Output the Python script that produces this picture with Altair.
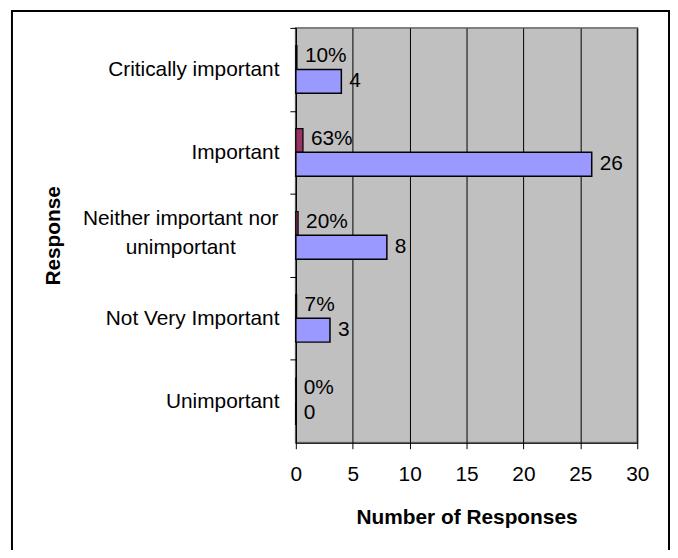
import altair as alt
import pandas as pd

categories = ["Critically important", "Important", "Neither important nor unimportant",
              "Not Very Important", "Unimportant"]
counts = [4, 26, 8, 3, 0]
percents = [0.10, 0.63, 0.20, 0.07, 0.0]
percent_labels = ["10%", "63%", "20%", "7%", "0%"]
x_ticks = [0, 5, 10, 15, 20, 25, 30]

pct_df = pd.DataFrame({"response": categories, "value": percents, "label": percent_labels})
cnt_df = pd.DataFrame({"response": categories, "value": counts,
                       "label": [str(n) for n in counts]})

FONT = "Liberation Sans"
FS = 21
H = 418

y_enc = alt.Y("response:N", sort=categories,
              scale=alt.Scale(domain=categories, paddingInner=0, paddingOuter=0),
              axis=alt.Axis(title="Response", tickSize=6, tickOffset=-H / 10,
                            labelOffset=H / 10,
                            tickColor="black", domainColor="black",
                            labelPadding=11, labelFontSize=FS, labelColor="black",
                            labelFont=FONT, labelLimit=400,
                            labelExpr="indexof(datum.value, 'Neither') >= 0 ? '' : datum.value",
                            titleFont=FONT, titleFontSize=FS, titleFontWeight="bold",
                            titleColor="black", titlePadding=42))
x_enc = alt.X("value:Q", scale=alt.Scale(domain=[0, 30], nice=False, zero=True),
              axis=alt.Axis(values=x_ticks, title="Number of Responses", grid=True,
                            gridColor="black", gridOpacity=1, gridWidth=1,
                            tickSize=6, tickColor="black", domainColor="black",
                            labelPadding=15, labelFontSize=FS, labelFont=FONT,
                            labelColor="black", labelFlush=False,
                            titleFont=FONT, titleFontSize=FS, titleFontWeight="bold",
                            titleColor="black", titlePadding=22))

pct_bars = alt.Chart(pct_df).mark_bar(height=24, yOffset=-12, color="#993366",
                                      stroke="black", strokeWidth=1.2).encode(
    x=x_enc, y=y_enc)
cnt_bars = alt.Chart(cnt_df).mark_bar(height=24, yOffset=12, color="#9999FF",
                                      stroke="black", strokeWidth=1.5).encode(
    x="value:Q", y=alt.Y("response:N", sort=categories))

pct_text = alt.Chart(pct_df).mark_text(align="left", baseline="middle", dx=8, dy=-13,
                                       font=FONT, fontSize=FS, color="black").encode(
    x="value:Q", y=alt.Y("response:N", sort=categories), text="label:N")
cnt_text = alt.Chart(cnt_df).mark_text(align="left", baseline="middle", dx=8, dy=12,
                                       font=FONT, fontSize=FS, color="black").encode(
    x="value:Q", y=alt.Y("response:N", sort=categories), text="label:N")

neither_df = pd.DataFrame({"response": [categories[2]],
                           "text": ["Neither important nor\nunimportant"]})
neither = alt.Chart(neither_df).mark_text(align="center", baseline="middle", lineBreak="\n",
                                          lineHeight=29, dy=-16, font=FONT, fontSize=FS,
                                          color="black").encode(
    y=alt.Y("response:N", sort=categories), x=alt.value(-116), text="text:N")

frame_df = pd.DataFrame({"k": [0]})
frame = alt.Chart(frame_df).mark_rect(fillOpacity=0, stroke="black", strokeWidth=2).encode(
    x=alt.value(-286), x2=alt.value(376), y=alt.value(-17), y2=alt.value(700))

chart = alt.layer(pct_bars, cnt_bars, pct_text, cnt_text, neither, frame).properties(
    width=344, height=H,
    autosize=alt.AutoSizeParams(type="none"),
    padding={"left": 290, "top": 18, "right": 33, "bottom": 106},
    background="white",
).configure_view(fill="#C0C0C0", stroke="#808080", strokeWidth=2)

chart.save("out.html", embed_options={"renderer": "svg", "actions": False})
